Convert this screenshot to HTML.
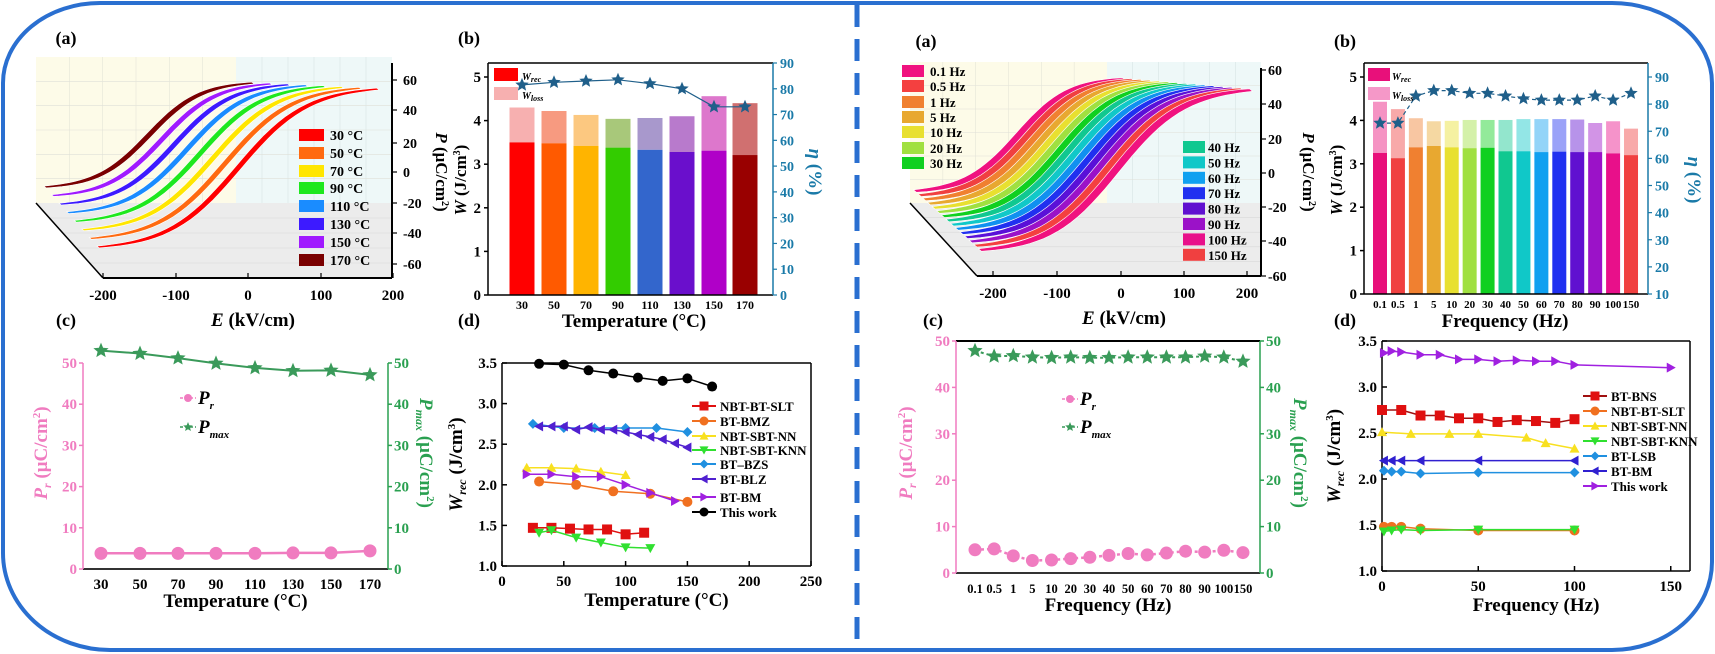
<!DOCTYPE html>
<html><head><meta charset="utf-8"><style>
html,body{margin:0;padding:0;background:#fff;}
svg{display:block;font-family:"Liberation Serif",serif;}
text{font-weight:bold;}
</style></head><body>
<svg id="s" width="1715" height="654" viewBox="0 0 1715 654" xmlns="http://www.w3.org/2000/svg"></svg>
<script>
const o=[];
function T(x,y,s,sz,anc,fill,extra){o.push(`<text x="${x}" y="${y}" font-size="${sz||14}" text-anchor="${anc||'middle'}" fill="${fill||'#000'}" ${extra||''}>${s}</text>`);}
function L(x1,y1,x2,y2,c,w,extra){o.push(`<line x1="${x1}" y1="${y1}" x2="${x2}" y2="${y2}" stroke="${c||'#000'}" stroke-width="${w||1.5}" ${extra||''}/>`);}
function R(x,y,w,h,c,extra){o.push(`<rect x="${x}" y="${y}" width="${w}" height="${h}" fill="${c}" ${extra||''}/>`);}
function P(d,fill,stroke,w,extra){o.push(`<path d="${d}" fill="${fill||'none'}" stroke="${stroke||'none'}" stroke-width="${w||1}" ${extra||''}/>`);}
function star(x,y,r,c){let d='';for(let i=0;i<10;i++){const a=-Math.PI/2+i*Math.PI/5;const rr=i%2?r*0.45:r;d+=(i?'L':'M')+(x+rr*Math.cos(a)).toFixed(1)+','+(y+rr*Math.sin(a)).toFixed(1);}P(d+'Z',c);}
function mk(type,x,y,c,r){r=r||5;
 if(type=='s')R(x-r,y-r,2*r,2*r,c);
 else if(type=='o')o.push(`<circle cx="${x}" cy="${y}" r="${r}" fill="${c}"/>`);
 else if(type=='u')P(`M${x},${y-r}L${x+r},${y+r*0.8}L${x-r},${y+r*0.8}Z`,c);
 else if(type=='d')P(`M${x},${y+r}L${x+r},${y-r*0.8}L${x-r},${y-r*0.8}Z`,c);
 else if(type=='D')P(`M${x},${y-r}L${x+r},${y}L${x},${y+r}L${x-r},${y}Z`,c);
 else if(type=='l')P(`M${x-r},${y}L${x+r*0.8},${y-r}L${x+r*0.8},${y+r}Z`,c);
 else if(type=='r')P(`M${x+r},${y}L${x-r*0.8},${y-r}L${x-r*0.8},${y+r}Z`,c);
}
function poly(pts,c,w,dash){P('M'+pts.map(p=>p[0].toFixed(1)+','+p[1].toFixed(1)).join('L'),'none',c,w||1.5,dash?`stroke-dasharray="${dash}"`:'');}

P('M100,3 L1612,3 A100,80 0 0 1 1712,83 L1712,562 A100,88 0 0 1 1612,650 L110,650 A107,97 0 0 1 3,553 L3,83 A97,80 0 0 1 100,3 Z','none','#2a6fd0',4);
L(857,5,857,650,'#2a6fd0',5,'stroke-dasharray="22,12"');

function panel3d(bw,bx1,bx2,top,floorY,fl,fr,bottom,cols,sF,eF,sB,eB,thick){
 R(bw,top,bx1-bw,floorY-top,'#fdfbe8');
 R(bx1,top,bx2-bx1,floorY-top,'#eef8f8');
 P(`M${bw},${floorY}L${bx2},${floorY}L${bx2},${bottom}L${fl},${bottom}Z`,'#ececec');
 for(let i=1;i<6;i++){L(bw+(bx1-bw)*i/6,top,bw+(bx1-bw)*i/6,floorY,'#e6e6d8',0.6);L(bx1+(bx2-bx1)*i/6,top,bx1+(bx2-bx1)*i/6,floorY,'#d8e4e4',0.6);L(bw,top+(floorY-top)*i/6,bx2,top+(floorY-top)*i/6,'#e0e0d8',0.6);}
 for(let i=1;i<5;i++){const yy=floorY+(bottom-floorY)*i/5;L(bw+(fl-bw)*i/5,yy,bx2,yy,'#d8d8d8',0.6);}
 L(bw,floorY,fl,bottom,'#000',1.5);L(fl,bottom,bx2,bottom,'#000',2);L(bx2,top+6,bx2,bottom,'#000',2);
 const n=cols.length;
 for(let i=n-1;i>=0;i--){const f=i/(n-1);
  const sx=sF[0]+(sB[0]-sF[0])*f,sy=sF[1]+(sB[1]-sF[1])*f,ex=eF[0]+(eB[0]-eF[0])*f,ey=eF[1]+(eB[1]-eF[1])*f;
  const up=[],dn=[];const k=2.0,tk=Math.tanh(k);
  for(let j=0;j<=40;j++){const u=-1+2*j/40;const p=Math.tanh(k*u)/tk;
   const x=(sx+ex)/2+(ex-sx)/2*u,y=(sy+ey)/2-(sy-ey)/2*p;
   const w=thick*(1-0.5*Math.abs(u)**2);
   up.push([x-w*0.6,y-w*0.5]);dn.push([x+w*0.6,y+w*0.5]);}
  const pts=up.concat(dn.reverse());
  P('M'+pts.map(p=>p[0].toFixed(1)+','+p[1].toFixed(1)).join('L')+'Z',cols[i],'#ffffff',0.6);
 }
}
panel3d(36,236,392,57,203,103,392,278,['#ff0000','#ff6a10','#ffe600','#1ee81e','#1a8cff','#3d1aff','#a01aff','#7a0000'],[98,247],[378,89],[45,187],[253,83],3.5);
[[-200,103],[-100,176],[0,248],[100,321],[200,393]].forEach(a=>{L(a[1],278,a[1],273,'#000',1.2);T(a[1],300,a[0],15);});
[[60,80],[40,110],[20,143],[0,172],[-20,203],[-40,233],[-60,264]].forEach(a=>{L(392,a[1],397,a[1],'#000',1.2);T(403,a[1]+5,a[0],14,'start');});
T(253,326,'<tspan font-style="italic">E</tspan> (kV/cm)',19);
T(436,172,'<tspan font-style="italic">P</tspan> (μC/cm<tspan font-size="10" dy="-6">2</tspan><tspan dy="6">)</tspan>',17,'middle','#000','transform="rotate(90 436 172)"');
['30 °C','50 °C','70 °C','90 °C','110 °C','130 °C','150 °C','170 °C'].forEach((s,i)=>{const y=[135,153,171,188,206,224,242,260][i];R(299,y-6,25,12,['#ff0000','#ff6a10','#ffe600','#1ee81e','#1a8cff','#3d1aff','#a01aff','#7a0000'][i]);T(330,y+5,s,14,'start','#000','font-weight="normal"');});
T(66,44,'(a)',18,'middle','#000','font-weight="normal"');

const rc=['#f0127f','#f44040','#9b12c8','#5a10d8','#2030f0','#1090f0','#10c8c8','#10c890','#10d020','#a0e040','#e8e030','#e8a830','#f08030','#f04040','#f0127f'];
panel3d(910,1107,1261,62,203,977,1261,276,rc,[980,250],[1251,90],[915,191],[1124,79],5);
[[-200,993],[-100,1057],[0,1121],[100,1184],[200,1247]].forEach(a=>{L(a[1],276,a[1],271,'#000',1.2);T(a[1],298,a[0],15);});
[[60,70],[40,104],[20,139],[0,173],[-20,207],[-40,241],[-60,276]].forEach(a=>{L(1261,a[1],1266,a[1],'#000',1.2);T(1268,a[1]+5,a[0],14,'start');});
T(1124,324,'<tspan font-style="italic">E</tspan> (kV/cm)',19);
T(1303,172,'<tspan font-style="italic">P</tspan> (μC/cm<tspan font-size="10" dy="-6">2</tspan><tspan dy="6">)</tspan>',17,'middle','#000','transform="rotate(90 1303 172)"');
[['0.1 Hz','#f0127f'],['0.5 Hz','#f44040'],['1 Hz','#f08030'],['5 Hz','#e8a830'],['10 Hz','#e8e030'],['20 Hz','#a0e040'],['30 Hz','#10d020']].forEach((a,i)=>{const y=[71,86,102,117,132,148,163][i];R(902,y-6,22,12,a[1]);T(930,y+5,a[0],13,'start','#000','font-weight="normal"');});
[['40 Hz','#10c890'],['50 Hz','#10c8c8'],['60  Hz','#10a0f0'],['70 Hz','#2030f0'],['80 Hz','#6010d0'],['90 Hz','#9b12c8'],['100 Hz','#e8108a'],['150 Hz','#f04040']].forEach((a,i)=>{const y=147+i*15.4;R(1183,y-6,22,12,a[1]);T(1208,y+5,a[0],13,'start','#000','font-weight="normal"');});
T(926,47,'(a)',18,'middle','#000','font-weight="normal"');

T(469,44,'(b)',18,'middle','#000','font-weight="normal"');
{const X0=488,X1=773,Y0=295,Y1=63,teal='#1a7aa8';
 const wr=[3.5,3.48,3.42,3.38,3.33,3.28,3.31,3.21],tot=[4.3,4.22,4.13,4.04,4.06,4.1,4.56,4.4],eta=[81.5,82.5,83,83.5,82,80,73,73];
 const bc=['#ff0000','#ff5a00','#ffb400','#33cc00','#3366cc','#6a0fcc','#b000c8','#990000'],lc=['#f7b0b0','#f79a80','#fcc880','#a8c87a','#a898cc','#b87acc','#dd77cc','#d07070'];
 const cx=[522,554,586,618,650,682,714,745],labs=[30,50,70,90,110,130,150,170];
 const Y=w=>Y0-w*43.6,E=e=>Y0-e*232/90;
 cx.forEach((x,i)=>{R(x-12.5,Y(tot[i]),25,Y(wr[i])-Y(tot[i]),lc[i]);R(x-12.5,Y(wr[i]),25,Y0-Y(wr[i]),bc[i]);T(x,309,labs[i],12);});
 L(X0,Y1,X1,Y1,'#000',1.5);L(X0,Y1,X0,Y0,'#000',1.5);L(X0,Y0,X1,Y0,'#000',1.5);L(X1,Y1,X1,Y0,teal,1.5);
 [0,1,2,3,4,5].forEach(v=>{L(X0-4,Y(v),X0,Y(v));T(481,Y(v)+5,v,15,'end');});
 for(let v=0;v<=90;v+=10){L(X1,E(v),X1+4,E(v),teal,1.2);T(780,E(v)+5,v,14,'start',teal);}
 poly(cx.map((x,i)=>[x,E(eta[i])]),'#1f5f8a',1.2);cx.forEach((x,i)=>star(x,E(eta[i]),7,'#1f5f8a'));
 R(494,68,24,13,'#ff0000');T(522,80,'W<tspan font-size="8" dy="2">rec</tspan>',10,'start','#000','font-style="italic" font-weight="normal"');
 R(494,87,24,13,'#f7b0b0');T(522,99,'W<tspan font-size="8" dy="2">loss</tspan>',10,'start','#000','font-style="italic" font-weight="normal"');
 T(634,327,'Temperature (°C)',19);
 T(466,180,'<tspan font-style="italic">W</tspan> (J/cm<tspan font-size="10" dy="-6">3</tspan><tspan dy="6">)</tspan>',17,'middle','#000','transform="rotate(-90 466 180)"');
 T(809,172,'<tspan font-style="italic">η</tspan> (%)',19,'middle',teal,'transform="rotate(90 809 172)"');
}
T(1345,47,'(b)',18,'middle','#000','font-weight="normal"');
{const X0=1364,X1=1648,Y0=294,Y1=63,teal='#1a7aa8';
 const wr=[3.25,3.13,3.38,3.41,3.38,3.36,3.37,3.29,3.29,3.27,3.28,3.27,3.27,3.24,3.2],tot=[4.43,4.26,4.05,3.98,3.99,4.01,4.01,4.01,4.03,4.03,4.03,4.02,3.94,3.98,3.81],eta=[73,73,83,85,85,84,84,83,82,81.5,81.5,81.5,83,81.5,84];
 const bc=['#e8107a','#f04040','#f08030','#e8a830','#e8e030','#a0e040','#10d020','#10c890','#10c8c8','#10a0f0','#2030f0','#6010d0','#9b12c8','#e8108a','#f04040'];
 const labs=['0.1','0.5','1','5','10','20','30','40','50','60','70','80','90','100','150'];
 const Y=w=>Y0-w*43.4,E=e=>Y0-(e-10)*217/80;
 bc.forEach((c,i)=>{const x=1380+i*17.93;R(x-7,Y(tot[i]),14,Y(wr[i])-Y(tot[i]),c,'opacity="0.45"');R(x-7,Y(wr[i]),14,Y0-Y(wr[i]),c);T(x,308,labs[i],11);});
 L(X0,Y1,X1,Y1,'#000',1.5);L(X0,Y1,X0,Y0,'#000',1.5);L(X0,Y0,X1,Y0,'#000',1.5);L(X1,Y1,X1,Y0,teal,1.5);
 [0,1,2,3,4,5].forEach(v=>{L(X0-4,Y(v),X0,Y(v));T(1357,Y(v)+5,v,15,'end');});
 for(let v=10;v<=90;v+=10){L(X1,E(v),X1+4,E(v),teal,1.2);T(1655,E(v)+5,v,14,'start',teal);}
 const pts=bc.map((c,i)=>[1380+i*17.93,E(eta[i])]);poly(pts,'#1f5f8a',1.2,'4,3');pts.forEach(p=>star(p[0],p[1],7,'#1f5f8a'));
 R(1368,68,22,13,'#e8107a');T(1392,80,'W<tspan font-size="8" dy="2">rec</tspan>',10,'start','#000','font-style="italic" font-weight="normal"');
 R(1368,87,22,13,'#f598c8');T(1392,99,'W<tspan font-size="8" dy="2">loss</tspan>',10,'start','#000','font-style="italic" font-weight="normal"');
 T(1505,327,'Frequency (Hz)',19);
 T(1342,180,'<tspan font-style="italic">W</tspan> (J/cm<tspan font-size="10" dy="-6">3</tspan><tspan dy="6">)</tspan>',17,'middle','#000','transform="rotate(-90 1342 180)"');
 T(1688,180,'<tspan font-style="italic">η</tspan> (%)',19,'middle',teal,'transform="rotate(90 1688 180)"');
}
const pink='#f07cc0',grn='#2aa050';
function cpanel(X0,X1,Y0,Y1,max,step,xs,labs,pr,pm,lx,title,lsz,top){
 const Y=v=>Y0-v*(Y0-Y1)/max;
 if(top)L(X0,Y1,X1,Y1,'#000',2);
 L(X0,Y0,X1,Y0,'#333',2);L(X0,Y1,X0,Y0,pink,1.5);L(X1,Y1,X1,Y0,grn,1.5);
 for(let v=0;v<=max;v+=step){L(X0-4,Y(v),X0,Y(v),pink);T(X0-6,Y(v)+5,v,15,'end',pink);L(X1,Y(v),X1+4,Y(v),grn);T(X1+6,Y(v)+5,v,15,'start',grn);}
 xs.forEach((x,i)=>{T(x,Y0+20,labs[i],lsz);});
 poly(xs.map((x,i)=>[x,Y(pm[i])]),'#3a9a5a',2,lsz<14?'3,3':'');xs.forEach((x,i)=>star(x,Y(pm[i]),8,'#3a9a5a'));
 poly(xs.map((x,i)=>[x,Y(pr[i])]),pink,2.5,lsz<14?'3,3':'');xs.forEach((x,i)=>o.push(`<circle cx="${x}" cy="${Y(pr[i])}" r="6.5" fill="${pink}"/>`));
 T((X0+X1)/2,Y0+38,title,19);
}
T(66,326,'(c)',18,'middle','#000','font-weight="normal"');
cpanel(83,388,569,363,50,10,[101,140,178,216,255,293,331,370],[30,50,70,90,110,130,150,170],[3.8,3.8,3.8,3.8,3.8,3.9,3.9,4.4],[53,52.3,51.2,49.9,48.8,48.1,48.2,47.1],0,'Temperature (°C)',15,false);
T(933,326,'(c)',18,'middle','#000','font-weight="normal"');
cpanel(956,1260,573,341,50,10,Array.from({length:15},(_,i)=>975+i*19.14),['0.1','0.5','1','5','10','20','30','40','50','60','70','80','90','100','150'],[5,5.2,3.7,2.7,2.8,3.1,3.4,3.8,4.2,3.9,4.3,4.7,4.5,4.9,4.4],[47.9,46.7,46.8,46.5,46.4,46.5,46.4,46.4,46.5,46.5,46.5,46.5,46.7,46.5,45.6],0,'Frequency (Hz)',12.5,true);
[[192,398,427],[1074,399,427]].forEach(a=>{L(a[0]-12,a[1],a[0]+4,a[1],pink,1.5,'stroke-dasharray="3,2"');o.push(`<circle cx="${a[0]-4}" cy="${a[1]}" r="4" fill="${pink}"/>`);T(a[0]+6,a[1]+6,'<tspan font-style="italic">P</tspan><tspan font-size="11" dy="5" font-style="italic">r</tspan>',19,'start');
 L(a[0]-12,a[2],a[0]+4,a[2],'#3a9a5a',1.5,'stroke-dasharray="3,2"');star(a[0]-4,a[2],5,'#3a9a5a');T(a[0]+6,a[2]+6,'<tspan font-style="italic">P</tspan><tspan font-size="11" dy="5" font-style="italic">max</tspan>',19,'start');});
T(47,453,'<tspan font-style="italic">P</tspan><tspan font-size="12" dy="4" font-style="italic">r</tspan><tspan dy="-4"> (μC/cm</tspan><tspan font-size="11" dy="-7">2</tspan><tspan dy="7">)</tspan>',19,'middle',pink,'transform="rotate(-90 47 453)"');
T(420,453,'<tspan font-style="italic">P</tspan><tspan font-size="12" dy="4" font-style="italic">max</tspan><tspan dy="-4"> (μC/cm</tspan><tspan font-size="11" dy="-7">2</tspan><tspan dy="7">)</tspan>',19,'middle',grn,'transform="rotate(90 420 453)"');
T(912,453,'<tspan font-style="italic">P</tspan><tspan font-size="12" dy="4" font-style="italic">r</tspan><tspan dy="-4"> (μC/cm</tspan><tspan font-size="11" dy="-7">2</tspan><tspan dy="7">)</tspan>',19,'middle',pink,'transform="rotate(-90 912 453)"');
T(1294,453,'<tspan font-style="italic">P</tspan><tspan font-size="12" dy="4" font-style="italic">max</tspan><tspan dy="-4"> (μC/cm</tspan><tspan font-size="11" dy="-7">2</tspan><tspan dy="7">)</tspan>',19,'middle',grn,'transform="rotate(90 1294 453)"');

function dpanel(X0,X1,Y0,Y1,xmax,xstep,series,legX,legY,title,ylx){
 const X=v=>X0+v*(X1-X0)/xmax,Y=v=>Y0-(v-1)*(Y0-Y1)/2.5;
 L(X0,Y1,X1,Y1,'#000',1.5);L(X0,Y0,X1,Y0,'#000',1.5);L(X0,Y1,X0,Y0,'#000',1.5);L(X1,Y1,X1,Y0,'#000',1.5);
 for(let v=1;v<=3.5001;v+=0.5){L(X0,Y(v),X0+5,Y(v));T(X0-5,Y(v)+5,v.toFixed(1),15,'end');}
 for(let v=0;v<=xmax;v+=xstep){L(X(v),Y0,X(v),Y0-5);T(X(v),Y0+20,v,15);}
 series.forEach((s,k)=>{poly(s.d.map(p=>[X(p[0]),Y(p[1])]),s.lc||s.c,1.5);s.d.forEach(p=>mk(s.m,X(p[0]),Y(p[1]),s.c,5));
  const ly=legY[k];L(legX,ly,legX+24,ly,s.lc||s.c,2);mk(s.m,legX+12,ly,s.c,4.5);T(legX+28,ly+5,s.n,13,'start');});
 T((X0+X1)/2,Y0+40,title,19);
 T(ylx,(Y0+Y1)/2,'<tspan font-style="italic">W</tspan><tspan font-size="12" dy="4" font-style="italic">rec</tspan><tspan dy="-4"> (J/cm</tspan><tspan font-size="11" dy="-7">3</tspan><tspan dy="7">)</tspan>',19,'middle','#000',`transform="rotate(-90 ${ylx} ${(Y0+Y1)/2})"`);
}
T(469,326,'(d)',18,'middle','#000','font-weight="normal"');
dpanel(502,811,566,363,250,50,[
 {n:'NBT-BT-SLT',m:'s',c:'#e01010',d:[[25,1.47],[40,1.47],[55,1.46],[70,1.45],[85,1.45],[100,1.39],[115,1.41]]},
 {n:'BT-BMZ',m:'o',c:'#f07020',d:[[30,2.04],[60,2.0],[90,1.92],[120,1.89],[150,1.79]]},
 {n:'NBT-SBT-NN',m:'u',c:'#f8e020',d:[[20,2.21],[40,2.21],[60,2.2],[80,2.16],[100,2.12]]},
 {n:'NBT-SBT-KNN',m:'d',c:'#30e030',d:[[30,1.41],[40,1.44],[60,1.35],[80,1.29],[100,1.23],[120,1.22]]},
 {n:'BT–BZS',m:'D',c:'#2090e0',d:[[25,2.75],[50,2.7],[75,2.7],[100,2.7],[125,2.7],[150,2.65]]},
 {n:'BT-BLZ',m:'l',c:'#5020d0',d:[[30,2.72],[40,2.72],[50,2.72],[60,2.68],[70,2.71],[80,2.68],[90,2.68],[100,2.65],[110,2.62],[120,2.59],[130,2.56],[140,2.51],[150,2.46]]},
 {n:'BT-BM',m:'r',c:'#a020e0',d:[[20,2.13],[40,2.13],[60,2.1],[80,2.1],[100,2.0],[120,1.9],[140,1.8]]},
 {n:'This work',m:'o',c:'#000',d:[[30,3.49],[50,3.48],[70,3.41],[90,3.37],[110,3.32],[130,3.28],[150,3.31],[170,3.21]]}
],692,[406,421,436,450,464,479,497,512],'Temperature (°C)',462);
T(1345,326,'(d)',18,'middle','#000','font-weight="normal"');
dpanel(1382,1690,571,341,160,50,[
 {n:'BT-BNS',m:'s',c:'#e01010',lc:'#a01010',d:[[0,2.75],[10,2.75],[20,2.69],[30,2.69],[40,2.66],[50,2.66],[60,2.62],[70,2.64],[80,2.63],[90,2.61],[100,2.65]]},
 {n:'NBT-BT-SLT',m:'o',c:'#f07020',d:[[1,1.48],[5,1.48],[10,1.48],[20,1.46],[50,1.44],[100,1.44]]},
 {n:'NBT-SBT-NN',m:'u',c:'#f8e020',d:[[0,2.51],[15,2.49],[35,2.49],[50,2.49],[75,2.45],[85,2.39],[100,2.33]]},
 {n:'NBT-SBT-KNN',m:'d',c:'#30e030',d:[[1,1.43],[5,1.44],[10,1.45],[20,1.44],[50,1.45],[100,1.45]]},
 {n:'BT-LSB',m:'D',c:'#2090e0',d:[[1,2.09],[5,2.08],[10,2.08],[20,2.06],[50,2.07],[100,2.07]]},
 {n:'BT-BM',m:'l',c:'#3020d0',d:[[1,2.2],[5,2.2],[10,2.2],[20,2.2],[50,2.2],[100,2.2]]},
 {n:'This work',m:'r',c:'#a020e0',d:[[1,3.37],[5,3.39],[10,3.38],[20,3.35],[30,3.35],[40,3.3],[50,3.3],[60,3.28],[70,3.29],[80,3.28],[90,3.28],[100,3.24],[150,3.21]]}
],1583,[396,411,426,441,456,471,486],'Frequency (Hz)',1340);
document.getElementById('s').innerHTML=o.join('');
</script>
</body></html>
